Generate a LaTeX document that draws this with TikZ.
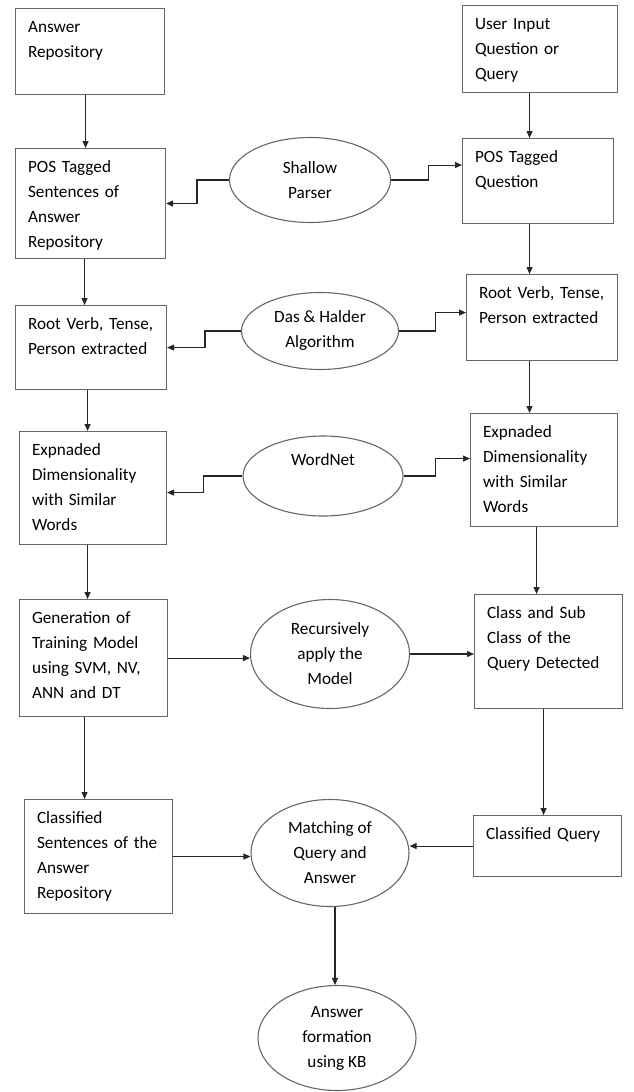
\documentclass[tikz,border=0pt]{standalone}
\usepackage{fontspec}
\setmainfont{Carlito}
\usetikzlibrary{arrows.meta,shapes.geometric}

\begin{document}
\begin{tikzpicture}[
    x=1pt, y=-1pt,
    font=\fontsize{17.2}{25}\selectfont,
    box/.style 2 args={draw=black!60, line width=1.1pt, anchor=north west, align=left, inner xsep=12.5pt, inner ysep=0pt, text height=23.5pt, text width=#1, text depth=#2},
    proc/.style={draw=black!60, line width=1.1pt, ellipse, align=center, inner sep=0pt},
    arr/.style={-{Triangle[length=7pt,width=6pt]}, line width=1.1pt, black!85}
]
\useasboundingbox (0,0) rectangle (634,1092);

\node[box={124pt}{62.5pt}] (ar) at (15,8) {Answer\\Repository};
\node[box={130pt}{63.5pt}] (ui) at (462,5) {User Input\\Question or\\Query};
\node[box={125pt}{86.5pt}] (pss) at (15,148) {POS Tagged\\Sentences of\\Answer\\Repository};
\node[proc, minimum width=161pt, minimum height=85pt] (sp) at (310,180) {Shallow\\Parser};
\node[box={126pt}{61.5pt}] (psq) at (462,138) {POS Tagged\\Question};
\node[box={126pt}{60.5pt}] (rvl) at (15,305) {Root Verb, Tense,\\Person extracted};
\node[proc, minimum width=157pt, minimum height=77pt] (das) at (320,331) {Das \& Halder\\Algorithm};
\node[box={126pt}{62.5pt}] (rvr) at (466,274) {Root Verb, Tense,\\Person extracted};
\node[box={122pt}{89.5pt}] (exl) at (19,431) {Expnaded\\Dimensionality\\with Similar\\Words};
\node[proc, minimum width=160pt, minimum height=80pt] (wn) at (323,476) {WordNet\\\strut};
\node[box={122pt}{89.5pt}] (exr) at (470,413) {Expnaded\\Dimensionality\\with Similar\\Words};
\node[box={123pt}{93.5pt}] (gen) at (19,599) {Generation of\\Training Model\\using SVM, NV,\\ANN and DT};
\node[proc, minimum width=159pt, minimum height=109pt] (rec) at (330,654) {Recursively\\apply the\\Model};
\node[box={123pt}{90.5pt}] (cls) at (474,594) {Class and Sub\\Class of the\\Query Detected};
\node[box={123pt}{90.5pt}] (cs) at (24,799) {Classified\\Sentences of the\\Answer\\Repository};
\node[proc, minimum width=158pt, minimum height=107pt] (match) at (330,853) {Matching of\\Query and\\Answer};
\node[box={123pt}{37.5pt}] (cq) at (473,815) {Classified Query};
\node[proc, minimum width=158pt, minimum height=105pt] (ans) at (337,1038) {Answer\\formation\\using KB};

\draw[arr] ([xshift=-4.5pt]ar.south) -- ([xshift=-5pt]pss.north);
\draw[arr] ([xshift=-6pt]pss.south) -- ([xshift=-6.5pt]rvl.north);
\draw[arr] ([xshift=-3.5pt]rvl.south) -- ([xshift=-5.5pt]exl.north);
\draw[arr] ([xshift=-5.5pt]exl.south) -- ([xshift=-6pt]gen.north);
\draw[arr] ([xshift=-9pt]gen.south) -- ([xshift=-14pt]cs.north);
\draw[arr] ([xshift=-10.5pt]ui.south) -- ([xshift=-8.5pt]psq.north);
\draw[arr] ([xshift=-8.5pt]psq.south) -- ([xshift=-12.5pt]rvr.north);
\draw[arr] ([xshift=-12.5pt]rvr.south) -- ([xshift=-14.5pt]exr.north);
\draw[arr] ([xshift=-7.5pt]exr.south) -- ([xshift=-12pt]cls.north);
\draw[arr] ([xshift=-5pt]cls.south) -- ([xshift=-4pt]cq.north);
\draw[arr] ([xshift=5pt]match.south) -- ([xshift=-2pt]ans.north);

\draw[arr] (sp.west) -- ++(-32,0) |- (pss.east);
\draw[arr] (sp.east) -- ++(37,0) |- ([yshift=16pt]psq.west);
\draw[arr] (das.west) -- ++(-36,0) |- (rvl.east);
\draw[arr] (das.east) -- ++(36,0) |- ([yshift=5pt]rvr.west);
\draw[arr] (wn.west) -- ++(-39,0) |- ([yshift=-4.5pt]exl.east);
\draw[arr] (wn.east) -- ++(32,0) |- ([yshift=11.5pt]exr.west);
\draw[arr] (gen.east) -- (rec.west |- gen.east);
\draw[arr] (rec.east) -- (cls.west |- rec.east);
\draw[arr] (cs.east) -- (match.west |- cs.east);
\draw[arr] (cq.west) -- (match.east |- cq.west);
\end{tikzpicture}
\end{document}
